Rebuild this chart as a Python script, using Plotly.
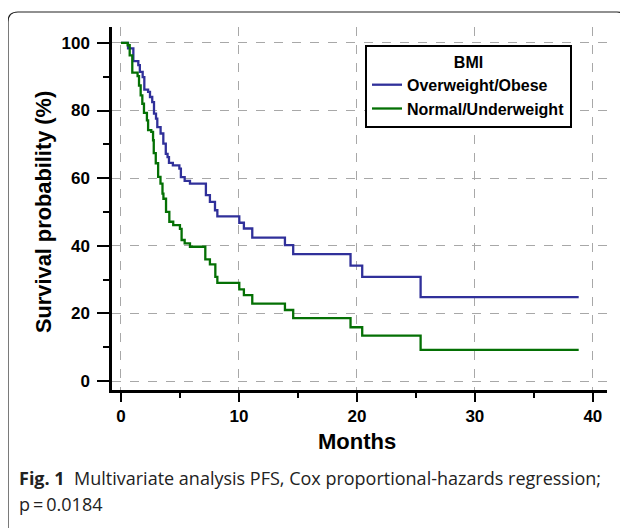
import plotly.graph_objects as go

# ---- data (months, survival %) ----
blue_t = [0, 0.6, 1.05, 1.47, 1.6, 1.84, 1.98, 2.3, 2.46, 2.65, 2.8, 2.97, 3.08, 3.36, 3.59,
          3.8, 3.95, 4.07, 4.4, 4.95, 5.08, 5.4, 5.85, 7.2, 7.54, 7.97, 8.17, 10.03, 10.42,
          11.13, 13.9, 14.6, 19.46, 20.45, 25.4, 38.8]
blue_s = [100, 98.4, 94.6, 93.4, 91.4, 89.9, 86.2, 85.5, 84.0, 82.5, 79.1, 77.6, 75.1, 73.2, 70.2,
          67.2, 66.2, 64.5, 63.8, 62.8, 60.3, 59.2, 58.4, 55.0, 53.0, 50.5, 48.7, 46.8, 45.1,
          42.4, 40.2, 37.5, 34.1, 30.8, 24.8, 24.8]

green_t = [0, 0.57, 0.74, 0.96, 1.41, 1.53, 1.67, 1.81, 1.95, 2.2, 2.3, 2.57, 2.72, 2.78, 2.95,
           3.15, 3.35, 3.52, 3.6, 3.82, 4.1, 4.43, 5.0, 5.14, 5.4, 5.85, 7.15, 7.54, 8.0, 8.17,
           10.03, 10.42, 11.13, 13.9, 14.6, 19.46, 20.45, 25.4, 38.8]
green_s = [100, 99.3, 96.3, 91.2, 90.2, 87.4, 84.5, 82.0, 79.3, 77.1, 74.2, 73.7, 71.2, 67.4, 64.4,
           60.4, 58.4, 55.4, 53.9, 50.0, 47.1, 46.1, 45.0, 41.7, 40.7, 39.7, 36.0, 34.5, 30.8, 29.0,
           27.1, 25.4, 22.9, 21.0, 18.6, 15.9, 13.4, 9.2, 9.2]

series_names = ["Overweight/Obese", "Normal/Underweight"]
series_colors = ["#30309a", "#047004"]
x_ticks = [0, 10, 20, 30, 40]
y_ticks = [0, 20, 40, 60, 80, 100]

# page body has an 8px margin: size the figure so it fits the 628x528 window
OFF = 8
W, H = 628 - OFF, 528 - OFF
PL, PR, PT, PB = 112, 607, 27, 390          # plot area in screenshot pixels
L, R, T, B = PL - OFF, W - (PR - OFF), PT - OFF, H - (PB - OFF)
PW, PH = PR - PL, PB - PT


def px(x):
    return (x - PL) / PW


def py(y):
    return (PB - y) / PH


fig = go.Figure()
for t, s, name, col in [(blue_t, blue_s, series_names[0], series_colors[0]),
                        (green_t, green_s, series_names[1], series_colors[1])]:
    fig.add_trace(go.Scatter(x=t, y=s, mode="lines", name=f"<b>{name}</b>",
                             line=dict(color=col, width=2.3, shape="hv")))

tick_font = dict(family="Liberation Sans", size=17, color="black", weight="bold")

fig.update_xaxes(range=[-0.76, 41.2], tickvals=x_ticks, ticks="outside", ticklen=9, tickwidth=2,
                 tickcolor="black", showline=True, linecolor="black", linewidth=2.5,
                 showgrid=True, gridcolor="#a8a8a8", griddash="dash", gridwidth=1,
                 zeroline=False, tickfont=tick_font, automargin=False,
                 minor=dict(dtick=5, tick0=5, ticks="outside", ticklen=5, tickwidth=1.5,
                            tickcolor="black", showgrid=False))
fig.update_yaxes(range=[-2.66, 104.7], tickvals=y_ticks, ticks="outside", ticklen=12, tickwidth=2,
                 tickcolor="black", showline=True, linecolor="black", linewidth=2.5,
                 showgrid=True, gridcolor="#a8a8a8", griddash="dash", gridwidth=1,
                 zeroline=False, tickfont=tick_font, automargin=False, ticklabelstandoff=4,
                 minor=dict(dtick=20, tick0=10, ticks="outside", ticklen=6, tickwidth=1.5,
                            tickcolor="black", showgrid=False))

# axis titles
fig.add_annotation(text="<b>Months</b>", xref="paper", yref="paper", x=px(357), y=py(441),
                   xanchor="center", yanchor="middle", showarrow=False,
                   font=dict(family="Liberation Sans", size=22, color="black"))
fig.add_annotation(text="<b>Survival probability (%)</b>", xref="paper", yref="paper",
                   x=px(44), y=py(212), xanchor="center", yanchor="middle", showarrow=False,
                   textangle=-90, font=dict(family="Liberation Sans", size=21.8, color="black"))

# rounded frame around the figure panel
x0, x1, y0, y1, r = 8, 627, 12, 540, 10
path = (f"M {px(x0)},{py(y1)} L {px(x0)},{py(y0 + r)} Q {px(x0)},{py(y0)} {px(x0 + r)},{py(y0)} "
        f"L {px(x1 - r)},{py(y0)} Q {px(x1)},{py(y0)} {px(x1)},{py(y0 + r)} L {px(x1)},{py(y1)}")
fig.add_shape(type="path", path=path, xref="paper", yref="paper",
              line=dict(color="#222222", width=1.2), layer="below")

cap_font = dict(family="Open Sans", size=18, color="#222222")
fig.add_annotation(text="<b>Fig. 1</b>  Multivariate analysis PFS, Cox proportional-hazards regression;",
                   xref="paper", yref="paper", x=px(17), y=py(478), xanchor="left", yanchor="middle",
                   showarrow=False, font=cap_font)
fig.add_annotation(text="p\u2009=\u20090.0184", xref="paper", yref="paper", x=px(17), y=py(504),
                   xanchor="left", yanchor="middle", showarrow=False, font=cap_font)

fig.update_layout(
    width=W, height=H, margin=dict(l=L, r=R, t=T, b=B, autoexpand=False),
    paper_bgcolor="white", plot_bgcolor="white",
    legend=dict(x=px(365), y=py(45), xanchor="left", yanchor="top",
                bordercolor="black", borderwidth=2, bgcolor="white",
                font=dict(family="Liberation Sans", size=16, color="black"),
                title=dict(text="<b>BMI</b>", side="top center",
                           font=dict(family="Liberation Sans", size=16, color="black")),
                tracegroupgap=0, itemwidth=30),
    showlegend=True,
)

fig.write_html("out.html")
